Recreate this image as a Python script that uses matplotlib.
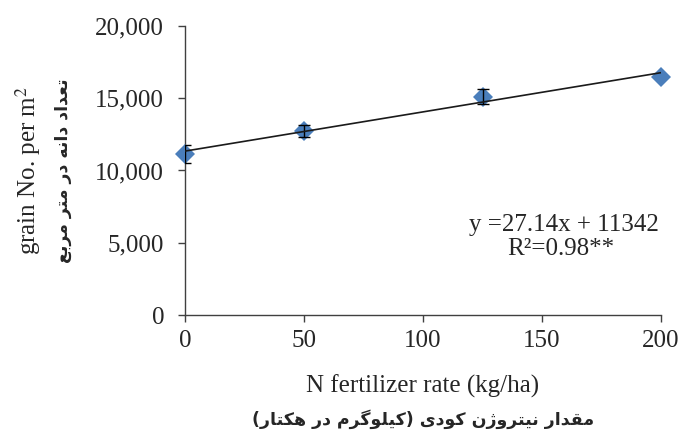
import numpy as np
import matplotlib
matplotlib.use('Agg')
import matplotlib.pyplot as plt
from matplotlib.ticker import FuncFormatter, MultipleLocator

# data
n_rate = [0, 50, 125, 200]
grain_no = [11150, 12730, 15110, 16450]
grain_err = [610, 430, 530, np.nan]
slope, intercept = 27.14, 11342

eq_text = 'y =27.14x + 11342'
r2_text = 'R²=0.98**'
xlabel_en = 'N fertilizer rate (kg/ha)'
xlabel_fa = 'مقدار نیتروژن کودی (کیلوگرم در هکتار)'
ylabel_en = 'grain No. per m$^2$'
ylabel_fa = 'تعداد دانه در متر مربع'

# small persian shaper (matplotlib does no arabic shaping / bidi)
# char -> (isolated, final, initial, medial)
FORMS = {
  'ا': (0xFE8D, 0xFE8E, None, None),
  'آ': (0xFE81, 0xFE82, None, None),
  'ب': (0xFE8F, 0xFE90, 0xFE91, 0xFE92),
  'ت': (0xFE95, 0xFE96, 0xFE97, 0xFE98),
  'د': (0xFEA9, 0xFEAA, None, None),
  'ر': (0xFEAD, 0xFEAE, None, None),
  'ز': (0xFEAF, 0xFEB0, None, None),
  'ژ': (0xFB8A, 0xFB8B, None, None),
  'ع': (0xFEC9, 0xFECA, 0xFECB, 0xFECC),
  'ق': (0xFED5, 0xFED6, 0xFED7, 0xFED8),
  'ک': (0xFB8E, 0xFB8F, 0xFB90, 0xFB91),
  'گ': (0xFB92, 0xFB93, 0xFB94, 0xFB95),
  'ل': (0xFEDD, 0xFEDE, 0xFEDF, 0xFEE0),
  'م': (0xFEE1, 0xFEE2, 0xFEE3, 0xFEE4),
  'ن': (0xFEE5, 0xFEE6, 0xFEE7, 0xFEE8),
  'ه': (0xFEE9, 0xFEEA, 0xFEEB, 0xFEEC),
  'و': (0xFEED, 0xFEEE, None, None),
  'ی': (0xFBFC, 0xFBFD, 0xFBFE, 0xFBFF),
}

def dual(c):
  return c in FORMS and FORMS[c][2] is not None

def shape_fa(s):
  out = []
  for i, c in enumerate(s):
    if c not in FORMS:
      out.append(c)
      continue
    prev_j = i > 0 and dual(s[i-1])
    next_j = dual(c) and i < len(s)-1 and s[i+1] in FORMS
    iso, fin, ini, med = FORMS[c]
    if prev_j and next_j:
      cp = med
    elif prev_j:
      cp = fin
    elif next_j:
      cp = ini
    else:
      cp = iso
    out.append(chr(cp))
  vis = ''.join(reversed(out))
  return vis.translate(str.maketrans('()', ')('))

plt.rcParams['font.family'] = ['Liberation Serif', 'DejaVu Sans']
plt.rcParams['mathtext.fontset'] = 'stix'
fa_font = dict(family='DejaVu Sans', weight='bold', fontsize=12.5)

fig = plt.figure(figsize=(6.82, 4.33), dpi=100)
ax = fig.add_axes([185/682, 1-315/433, 476/682, 289/433])

blue = '#4A7EBB'
ax.plot(n_rate, grain_no, 'D', color=blue, ms=10.3, mew=0, zorder=3, clip_on=False)
ax.errorbar(n_rate, grain_no, yerr=grain_err, fmt='none', ecolor='black',
            elinewidth=1, capsize=4, capthick=1, zorder=4)

xx = np.array([min(n_rate), max(n_rate)])
ax.plot(xx, slope*xx + intercept, color='#1a1a1a', lw=1.2, zorder=5)

ax.set_xlim(0, 200)
ax.set_ylim(0, 20000)
ax.xaxis.set_major_locator(MultipleLocator(50))
ax.yaxis.set_major_locator(MultipleLocator(5000))
ax.yaxis.set_major_formatter(FuncFormatter(lambda v, p: '{:,.0f}'.format(v)))

for s in ['top', 'right']:
  ax.spines[s].set_visible(False)
for s in ['left', 'bottom']:
  ax.spines[s].set_color('#404040')
  ax.spines[s].set_linewidth(1.0)
ax.tick_params(axis='both', direction='out', length=5, width=1, color='#404040',
               labelsize=18, labelcolor='#262626')
ax.tick_params(axis='y', pad=10)
ax.tick_params(axis='x', pad=6)

ax.text(564/682, 1-225/433, eq_text, transform=fig.transFigure, fontsize=18,
        ha='center', va='center', color='#262626')
ax.text(561/682, 1-249/433, r2_text, transform=fig.transFigure, fontsize=18,
        ha='center', va='center', color='#262626')

fig.text(423/682, 1-386/433, xlabel_en, fontsize=18, ha='center', va='center',
         color='#262626')
fig.text(423/682, 1-419/433, shape_fa(xlabel_fa), ha='center', va='center',
         color='#262626', **fa_font)
fig.text(28/682, 1-170/433, ylabel_en, fontsize=18, ha='center', va='center',
         rotation=90, color='#262626')
fig.text(63/682, 1-171/433, shape_fa(ylabel_fa), ha='center', va='center',
         rotation=90, color='#262626', **fa_font)

fig.savefig('out.png', dpi=100, facecolor='white')
